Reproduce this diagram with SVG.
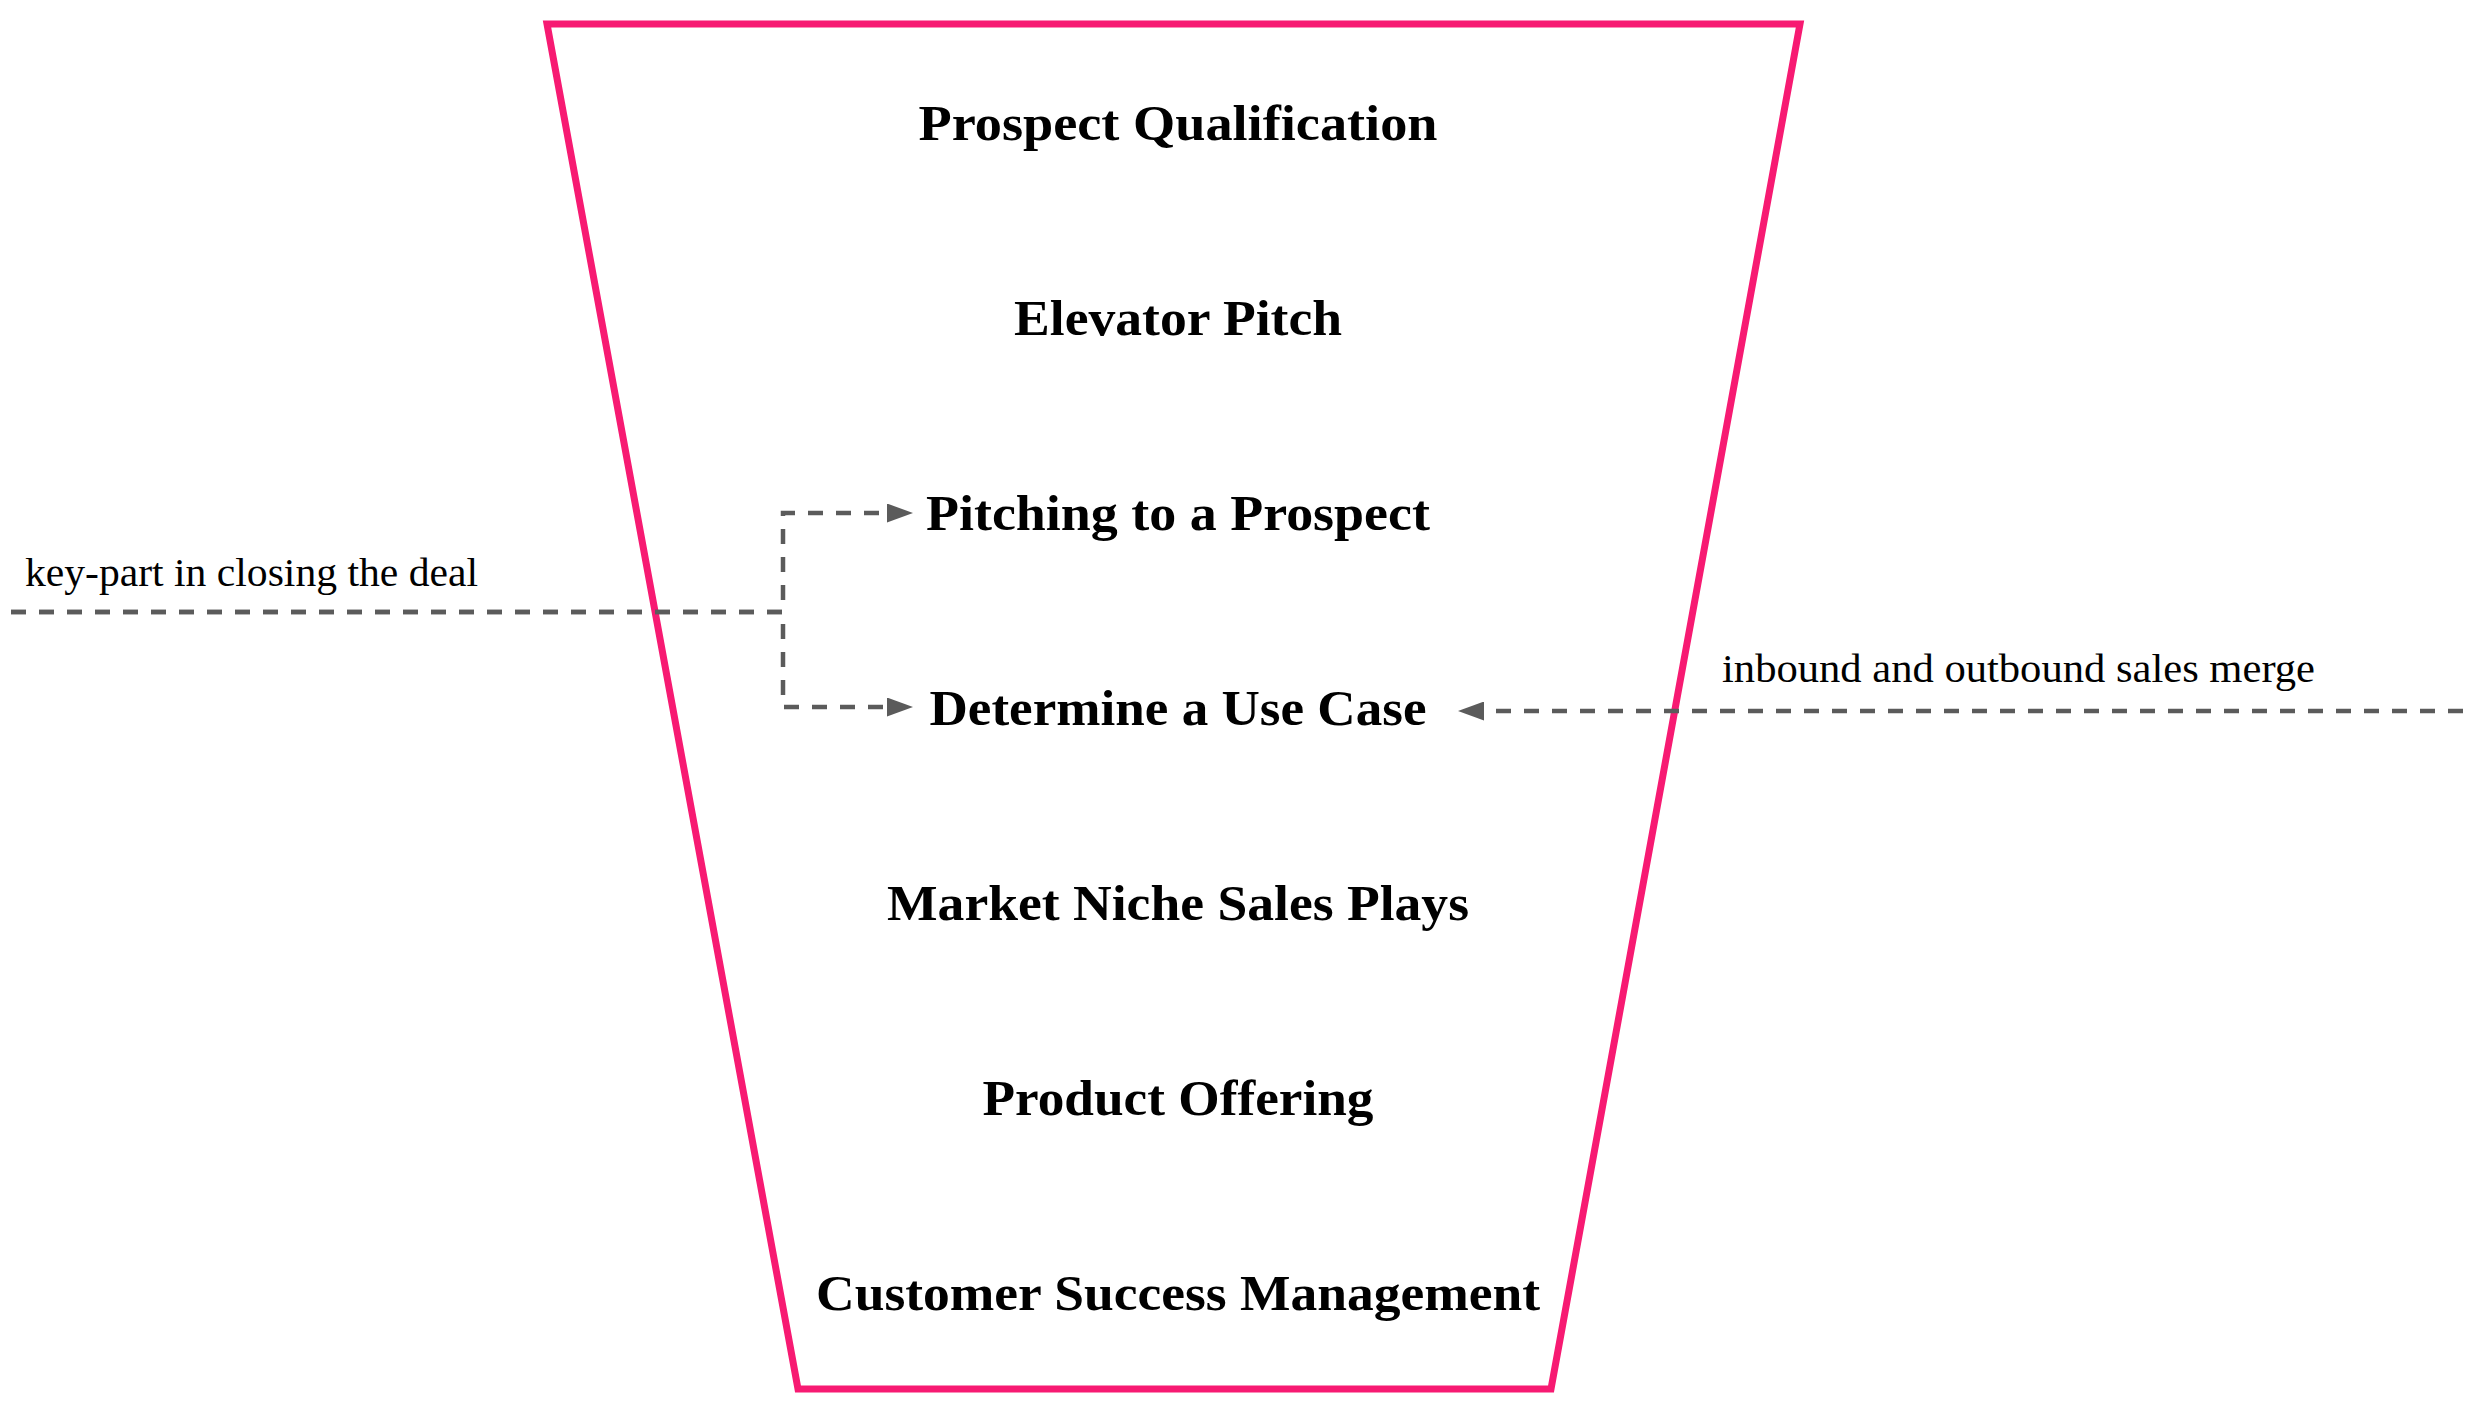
<svg xmlns="http://www.w3.org/2000/svg" width="2472" height="1406" viewBox="0 0 2472 1406">
  <style>
    .stage { font-family: "Liberation Serif", "DejaVu Serif", serif; font-weight: bold; font-size: 51px; fill: #000000; text-anchor: middle; }
    .lbl { font-family: "Liberation Serif", "DejaVu Serif", serif; font-size: 40px; fill: #000000; }
    .funnel { fill: #ffffff; stroke: #F71A72; stroke-width: 7; stroke-linejoin: miter; }
    .conn { fill: none; stroke: #5B5B5B; stroke-width: 4.5; stroke-dasharray: 15 13; }
  </style>
  <defs>
    <marker id="arrow" markerUnits="userSpaceOnUse" viewBox="0 0 26 19" markerWidth="26" markerHeight="19" refX="2" refY="9.5" orient="auto">
      <path d="M0,0 L26,9.5 L0,19 Z" fill="#5B5B5B"/>
    </marker>
  </defs>
  <rect x="0" y="0" width="2472" height="1406" fill="#ffffff"/>
  <g id="funnel">
    <polygon class="funnel" points="547,24 1800,24 1551,1389 798,1389"/>
  </g>
  <g id="connectors">
    <path class="conn" d="M11,612 L783,612 L783,513 L889,513" marker-end="url(#arrow)"/>
    <path class="conn" d="M11,612 L783,612 L783,707 L889,707" marker-end="url(#arrow)"/>
    <path class="conn" d="M2463,711 L1482,711" marker-end="url(#arrow)"/>
    <text class="lbl" x="25" y="586" textLength="453" lengthAdjust="spacingAndGlyphs">key-part in closing the deal</text>
    <text class="lbl" x="1722" y="682" textLength="593" lengthAdjust="spacingAndGlyphs">inbound and outbound sales merge</text>
  </g>
  <g id="node-prospect-qualification">
    <text class="stage" x="1178" y="139.5" textLength="519" lengthAdjust="spacingAndGlyphs">Prospect Qualification</text>
  </g>
  <g id="node-elevator-pitch">
    <text class="stage" x="1178" y="334.5" textLength="328" lengthAdjust="spacingAndGlyphs">Elevator Pitch</text>
  </g>
  <g id="node-pitching-to-a-prospect">
    <text class="stage" x="1178" y="529.5" textLength="504" lengthAdjust="spacingAndGlyphs">Pitching to a Prospect</text>
  </g>
  <g id="node-determine-a-use-case">
    <text class="stage" x="1178" y="724.5" textLength="497" lengthAdjust="spacingAndGlyphs">Determine a Use Case</text>
  </g>
  <g id="node-market-niche-sales-plays">
    <text class="stage" x="1178" y="919.5" textLength="582" lengthAdjust="spacingAndGlyphs">Market Niche Sales Plays</text>
  </g>
  <g id="node-product-offering">
    <text class="stage" x="1178" y="1114.5" textLength="391" lengthAdjust="spacingAndGlyphs">Product Offering</text>
  </g>
  <g id="node-customer-success-management">
    <text class="stage" x="1178" y="1309.5" textLength="724" lengthAdjust="spacingAndGlyphs">Customer Success Management</text>
  </g>
</svg>
